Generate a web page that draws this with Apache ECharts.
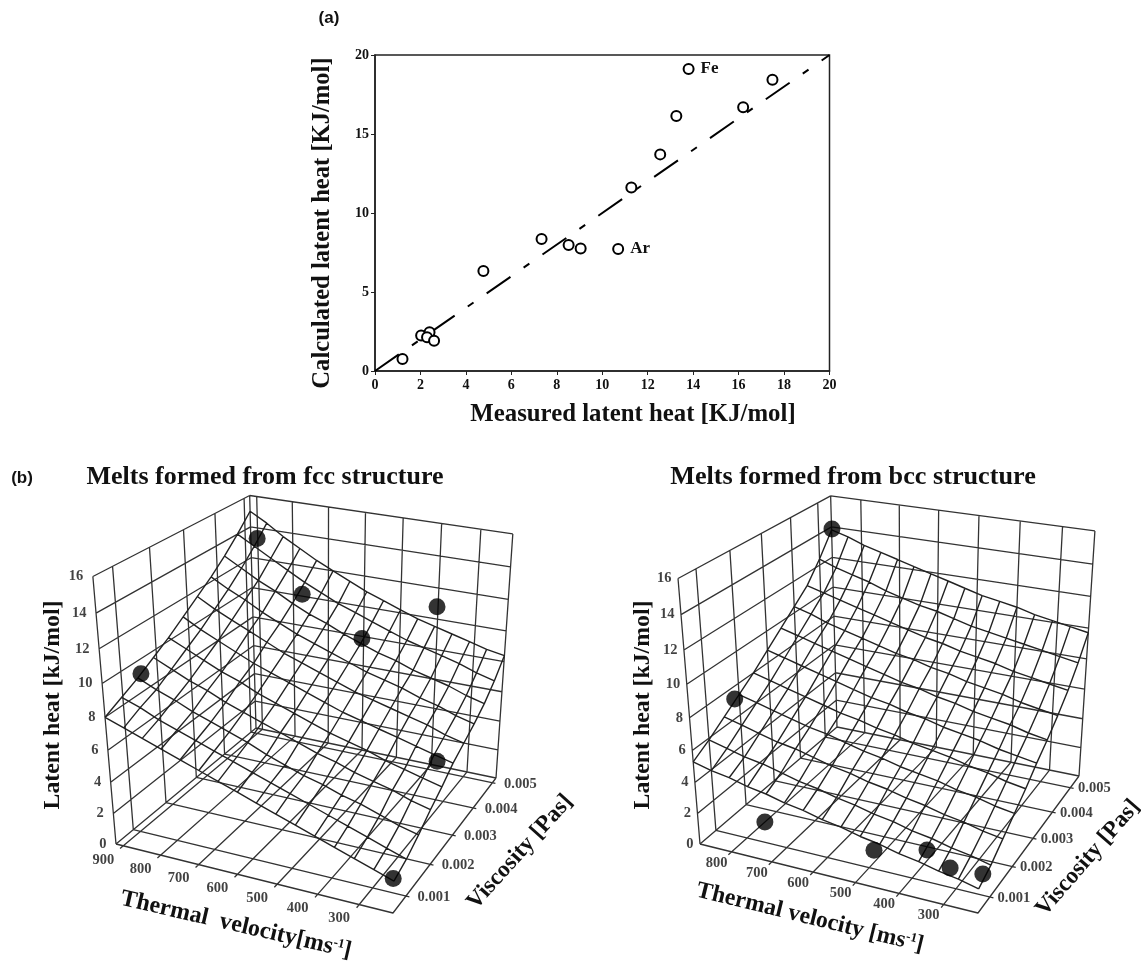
<!DOCTYPE html>
<html><head><meta charset="utf-8">
<style>html,body{margin:0;padding:0;background:#fff;overflow:hidden}#c{width:1141px;height:963px}</style>
<script src="https://cdn.jsdelivr.net/npm/echarts@6/dist/echarts.min.js"></script>
</head><body><div id="c"></div>
<script>
var measured=[1.21,2.03,2.40,2.29,2.60,4.77,7.33,8.52,9.05,10.7,11.28,12.55,13.26,13.8,16.2,17.49];
var calculated=[0.76,2.24,2.45,2.13,1.92,6.33,8.35,7.97,7.76,7.72,11.62,13.71,16.14,19.11,16.69,18.44];
var pointNames=['','','','','','','','','','Ar','','','','Fe','',''];
var latentTicks=[0,2,4,6,8,10,12,14,16];
var viscTicks=[0.001,0.002,0.003,0.004,0.005];
var fccVelTicks=[900,800,700,600,500,400,300];
var bccVelTicks=[800,700,600,500,400,300];
var fccDotVel=[911,866,701,525,406,246,223];
var fccDotVisc=[0.00144,0.00475,0.00419,0.00396,0.00526,0.0026,0.00052];
var fccDotLatent=[9.3,13.9,11.6,9.8,10.7,5.4,2.1];
var bccDotVel=[883,867,694,449,359,291,225];
var bccDotVisc=[0.00556,0.0017,0.00028,0.00039,0.00087,0.00057,0.00066];
var bccDotLatent=[13.8,7.5,3.0,2.6,2.3,2.2,2.1];
var fccMeshVel=[920,873,827,780,733,687,640,593,547,500,453,407,360,313,267,220];
var fccMeshVisc=[0.0005,0.00097,0.00144,0.00191,0.00238,0.00285,0.00332,0.00379,0.00426,0.00473,0.0052];
var bccMeshVel=[880,836,793,749,705,662,618,574,531,487,443,400,356,312,269,225];
var bccMeshVisc=[0.0005,0.001,0.0015,0.002,0.0025,0.003,0.0035,0.004,0.0045,0.005,0.0055];
var fccSurface=[
[8.0,7.6,7.2,6.8,6.4,6.0,5.6,5.2,4.8,4.4,4.0,3.6,3.2,2.8,2.4,2.0],
[8.5,8.1,7.6,7.2,6.8,6.4,6.0,5.6,5.2,4.8,4.4,4.0,3.6,3.2,2.8,2.4],
[9.0,8.5,8.1,7.6,7.2,6.8,6.4,5.9,5.5,5.1,4.8,4.4,4.1,3.7,3.3,3.0],
[9.6,9.1,8.6,8.2,7.7,7.3,6.9,6.5,6.1,5.7,5.4,5.0,4.7,4.4,4.0,3.7],
[10.2,9.7,9.2,8.7,8.3,7.8,7.4,7.0,6.6,6.2,5.9,5.6,5.2,4.9,4.6,4.3],
[10.9,10.3,9.8,9.3,8.8,8.4,8.0,7.6,7.2,6.8,6.5,6.2,5.9,5.6,5.3,5.0],
[11.6,11.0,10.5,10.0,9.5,9.0,8.6,8.2,7.8,7.4,7.1,6.8,6.5,6.2,5.8,5.5],
[12.3,11.7,11.2,10.6,10.1,9.6,9.2,8.8,8.4,8.0,7.7,7.4,7.0,6.7,6.3,6.0],
[13.1,12.5,11.9,11.4,10.8,10.3,9.9,9.4,9.0,8.6,8.3,7.9,7.6,7.3,6.9,6.6],
[14.0,13.4,12.8,12.2,11.6,11.1,10.6,10.2,9.8,9.4,9.0,8.7,8.4,8.1,7.7,7.4],
[15.0,14.4,13.7,13.1,12.5,12.0,11.5,11.0,10.6,10.2,9.8,9.5,9.2,8.9,8.6,8.4]];
var bccSurface=[
[5.3,5.0,4.8,4.5,4.3,4.0,3.8,3.5,3.3,3.0,2.8,2.5,2.3,2.0,1.8,1.5],
[5.9,5.6,5.3,5.1,4.8,4.5,4.3,4.0,3.8,3.5,3.3,3.0,2.8,2.5,2.3,2.0],
[6.6,6.3,6.0,5.7,5.5,5.2,4.9,4.7,4.4,4.2,3.9,3.7,3.4,3.2,2.9,2.7],
[7.3,7.0,6.7,6.4,6.1,5.9,5.6,5.3,5.1,4.8,4.6,4.4,4.1,3.9,3.6,3.4],
[8.0,7.7,7.4,7.1,6.8,6.5,6.3,6.0,5.8,5.5,5.3,5.1,4.8,4.6,4.3,4.1],
[8.8,8.5,8.2,7.9,7.6,7.3,7.0,6.8,6.5,6.3,6.0,5.8,5.6,5.3,5.1,4.9],
[9.6,9.3,9.0,8.7,8.4,8.1,7.8,7.5,7.3,7.0,6.8,6.5,6.3,6.1,5.8,5.6],
[10.4,10.1,9.7,9.4,9.1,8.8,8.5,8.3,8.0,7.8,7.5,7.3,7.1,6.8,6.6,6.4],
[11.2,10.9,10.6,10.3,10.0,9.7,9.4,9.1,8.9,8.6,8.4,8.2,7.9,7.7,7.5,7.3],
[12.4,12.0,11.7,11.4,11.0,10.7,10.4,10.2,9.9,9.6,9.4,9.2,9.0,8.8,8.6,8.4],
[13.8,13.5,13.1,12.8,12.5,12.2,11.9,11.6,11.3,11.0,10.8,10.6,10.3,10.1,9.9,9.7]];

/* camera of each 3D box: where the box corners fall on the page, and the value range it spans */
var fccView={vel:[920,220],visc:[0.0005,0.0052],A:[116,844],B:[393,913],C:[496,778],D:[256,728],
  At:[93,578],Ct:[513,531],Dt:[249,497],V:[325,3261]};
var bccView={vel:[880,225],visc:[0.0005,0.0055],A:[700,844],B:[978,913],C:[1079,776],D:[837,727],
  At:[678,578],Ct:[1095,530],Dt:[833,497],V:[910,3380]};

function camera(w){
  var p=[w.A,w.B,w.C,w.D],x=p.map(function(q){return q[0]}),y=p.map(function(q){return q[1]});
  var dx1=x[1]-x[2],dx2=x[3]-x[2],sx=x[0]-x[1]+x[2]-x[3],dy1=y[1]-y[2],dy2=y[3]-y[2],sy=y[0]-y[1]+y[2]-y[3];
  var den=dx1*dy2-dx2*dy1,g=(sx*dy2-dx2*sy)/den,h=(dx1*sy-sx*dy1)/den;
  var a=x[1]-x[0]+g*x[1],b=x[3]-x[0]+h*x[3],c=x[0],d=y[1]-y[0]+g*y[1],e=y[3]-y[0]+h*y[3],f=y[0];
  function lam(bot,top,s){var F=-Math.hypot(top[0]-bot[0],top[1]-bot[1])/Math.hypot(w.V[0]-bot[0],w.V[1]-bot[1]);return F*s/(1-F)/16;}
  var l=(lam(w.A,w.At,1)+lam(w.C,w.Ct,g+h+1)+lam(w.D,w.Dt,h+1))/3;
  return {raw:function(u,t,z){var k=z*l,W=g*u+h*t+1+k;return [(a*u+b*t+c+k*w.V[0])/W,(d*u+e*t+f+k*w.V[1])/W];},
    u:function(v){return (w.vel[0]-v)/(w.vel[0]-w.vel[1]);},t:function(n){return (n-w.visc[0])/(w.visc[1]-w.visc[0]);}};
}
function join(lines){var o=[];lines.forEach(function(L,i){if(i)o.push([NaN,NaN]);L.forEach(function(p){o.push(p)});});return o;}
function lineSeries(data,w,c){return {type:'line',xAxisIndex:1,yAxisIndex:1,data:data,showSymbol:false,symbol:'none',silent:true,animation:false,z:2,lineStyle:{width:w,color:c}};}

function box(view,velTicks,meshVel,meshVisc,surface,zOff,vOff,tOff){
  var cam=camera(view),P=cam.raw,walls=[],floor=[],mesh=[],s=[];
  latentTicks.forEach(function(z){walls.push([P(0,0,z),P(0,1,z)]);walls.push([P(0,1,z),P(1,1,z)]);});
  viscTicks.concat([view.visc[0],view.visc[1]]).forEach(function(n){var t=cam.t(n);walls.push([P(0,t,0),P(0,t,16)]);});
  velTicks.concat([view.vel[1]]).forEach(function(v){var u=cam.u(v);walls.push([P(u,1,0),P(u,1,16)]);});
  velTicks.forEach(function(v){var u=cam.u(v);floor.push([P(u,-0.02,0),P(u,1,0)]);});
  viscTicks.forEach(function(n){var t=cam.t(n);floor.push([P(0,t,0),P(1.012,t,0)]);});
  floor.push([P(0,0,0),P(1,0,0),P(1,1,0)]);
  surface.forEach(function(row,i){var t=cam.t(meshVisc[i]);mesh.push(row.map(function(z,j){return P(cam.u(meshVel[j]),t,z);}));});
  meshVel.forEach(function(v,j){var u=cam.u(v);mesh.push(surface.map(function(row,i){return P(u,cam.t(meshVisc[i]),row[j]);}));});
  s.push(lineSeries(join(walls),1.3,'#333'));
  s.push(lineSeries(join(floor),1.3,'#333'));
  s.push(lineSeries(join(mesh),1.4,'#222'));
  function tick(items,lab){return {type:'scatter',xAxisIndex:1,yAxisIndex:1,symbolSize:1,silent:true,animation:false,itemStyle:{color:'transparent'},data:items,label:lab};}
  var font={show:true,formatter:'{b}',fontFamily:'Liberation Serif',fontWeight:'bold',fontSize:14.5,color:'#111'};
  s.push(tick(latentTicks.map(function(z){return {name:String(z),value:P(0,0,z)};}),Object.assign({position:'left',distance:zOff},font)));
  s.push(tick(velTicks.map(function(v){return {name:String(v),value:P(cam.u(v),0,0)};}),Object.assign({position:'inside',offset:vOff},font)));
  s.push(tick(viscTicks.map(function(n){return {name:n.toFixed(3),value:P(1,cam.t(n),0)};}),Object.assign({position:'inside',offset:tOff},font)));
  return {series:s,cam:cam};
}
function dots(cam,vel,visc,lat){return {type:'scatter',xAxisIndex:1,yAxisIndex:1,symbolSize:17,silent:true,animation:false,z:5,itemStyle:{color:'#000'},
  data:vel.map(function(v,i){return cam.raw(cam.u(v),cam.t(visc[i]),lat[i]);})};}

var fcc=box(fccView,fccVelTicks,fccMeshVel,fccMeshVisc,fccSurface,9,[-20,14],[28,1]);
var bcc=box(bccView,bccVelTicks,bccMeshVel,bccMeshVisc,bccSurface,6,[-15,11],[24,1]);

var T='Liberation Serif';
function txt(s,x,y,size,rot,fam){return {type:'text',x:x,y:y,rotation:(rot||0)*Math.PI/180,silent:true,style:{text:s,font:'bold '+size+'px "'+(fam||T)+'"',fill:'#111',textAlign:'center',textVerticalAlign:'middle'}};}
function rich(s,x,y,size,rot){return {type:'text',x:x,y:y,rotation:rot*Math.PI/180,silent:true,style:{text:s,textAlign:'center',textVerticalAlign:'middle',rich:{b:{font:'bold '+size+'px "Liberation Serif"',fill:'#111'},s:{font:'bold 13px "Liberation Serif"',fill:'#111',padding:[0,0,10,0]}}}};}
var axisBase={splitLine:{show:false},axisLine:{lineStyle:{color:'#222',width:1.5}},axisTick:{length:4,lineStyle:{color:'#222'}}};
var option={animation:false,backgroundColor:'#fff',
 grid:[{left:375,top:55,width:454.5,height:316,show:true,borderColor:'#222',borderWidth:1.5,backgroundColor:'transparent'},
       {left:0,top:0,width:1141,height:963,show:false}],
 xAxis:[Object.assign({type:'value',gridIndex:0,min:0,max:20,interval:2,axisLabel:{fontFamily:T,fontWeight:'bold',fontSize:14,color:'#111',margin:7}},axisBase),
  {type:'value',gridIndex:1,min:0,max:1141,show:false}],
 yAxis:[Object.assign({type:'value',gridIndex:0,min:0,max:20,interval:5,axisLabel:{fontFamily:T,fontWeight:'bold',fontSize:14,color:'#111',margin:6}},axisBase),
  {type:'value',gridIndex:1,min:0,max:963,inverse:true,show:false}],
 series:[
  {type:'line',data:[[0,0],[20,20]],symbol:'none',silent:true,z:2,lineStyle:{color:'#000',width:2,type:[29,16,7,16]}},
  {type:'scatter',symbol:'circle',symbolSize:10,silent:true,z:3,itemStyle:{color:'#fff',borderColor:'#000',borderWidth:2,opacity:1},
   data:measured.map(function(x,i){return {value:[x,calculated[i]],name:pointNames[i]};}),
   label:{show:true,position:'right',distance:6,formatter:'{b}',fontFamily:T,fontWeight:'bold',fontSize:17,color:'#111'}}
 ].concat(fcc.series,bcc.series,[dots(fcc.cam,fccDotVel,fccDotVisc,fccDotLatent),dots(bcc.cam,bccDotVel,bccDotVisc,bccDotLatent)]),
 graphic:[
  txt('(a)',329,18,17,0,'Liberation Sans'),txt('(b)',22,478,17,0,'Liberation Sans'),
  txt('Measured latent heat [KJ/mol]',633,415,24.8),
  txt('Calculated latent heat [KJ/mol]',323,223,24.6,90),
  txt('Melts formed from fcc structure',265,477,26),
  txt('Melts formed from bcc structure',853,477,26.2),
  txt('Latent heat [kJ/mol]',53,705,23.8,90),
  txt('Latent heat [kJ/mol]',643,705,23.8,90),
  rich('{b|Thermal  velocity[ms}{s|-1}{b|]}',236,925,24,-13),
  rich('{b|Thermal velocity [ms}{s|-1}{b|]}',810,918,23.7,-13.8),
  txt('Viscosity [Pas]',520,852,23.5,48),
  txt('Viscosity [Pas]',1088,858,23.5,49)
 ]};
echarts.init(document.getElementById('c'),null,{renderer:'canvas'}).setOption(option);
</script></body></html>
